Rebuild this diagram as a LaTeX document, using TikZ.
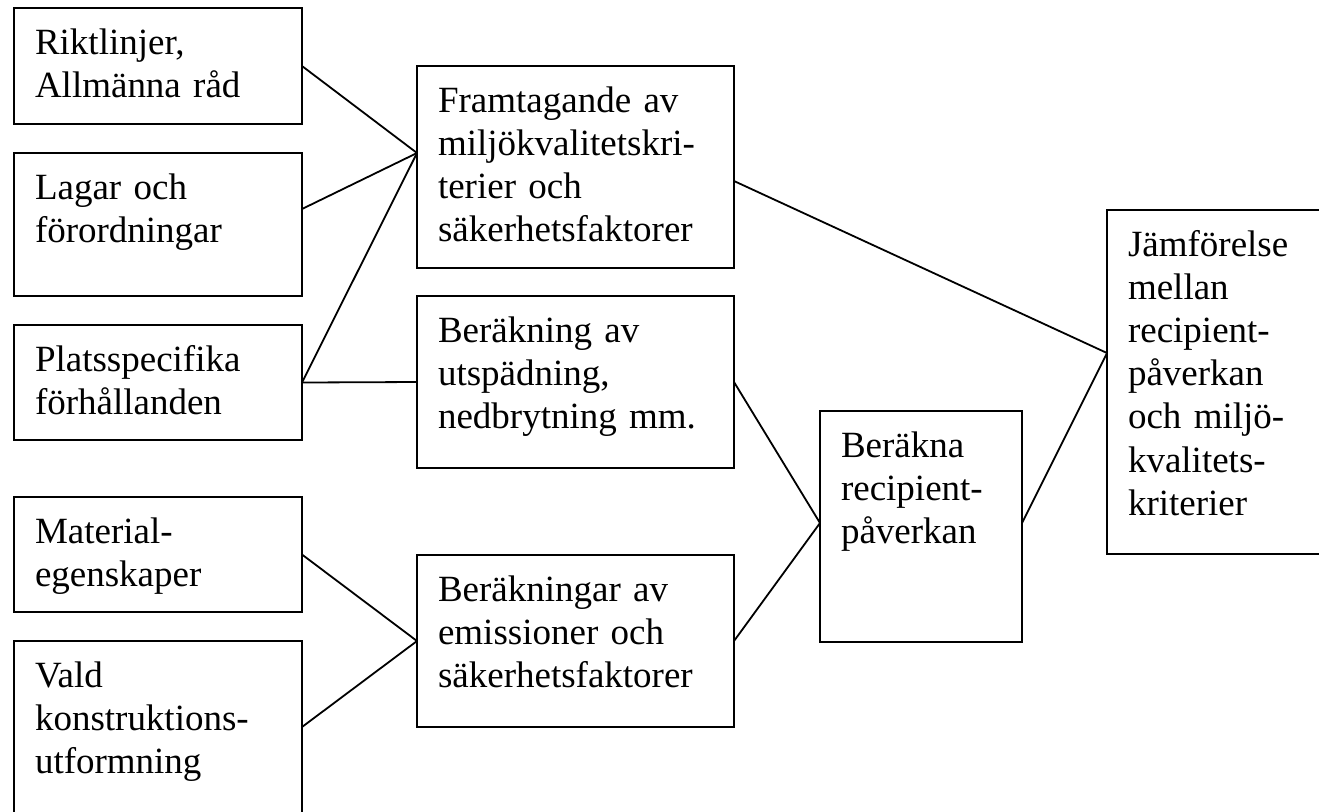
\documentclass[tikz,border=0pt]{standalone}
\usepackage{fontspec}
\setmainfont{Liberation Serif}
\begin{document}
\begin{tikzpicture}[x=0.5pt,y=-0.5pt,
  box/.style={draw, line width=0.9pt, rectangle, inner sep=0pt, outer sep=0pt, anchor=north west},
  txt/.style={anchor=north west, inner sep=0pt, outer sep=0pt, align=left, text width=400pt,
    font=\fontsize{18.5pt}{21.6pt}\selectfont},
  link/.style={line width=0.9pt}]
\useasboundingbox (0,0) rectangle (1319,811);
\clip (0,0) rectangle (1319,811);

% input boxes (left column)
\node[box, minimum width=144pt, minimum height=58pt]   (rikt) at (14,8)   {};
\node[box, minimum width=144pt, minimum height=71.5pt] (lag)  at (14,153) {};
\node[box, minimum width=144pt, minimum height=57.5pt] (plats) at (14,325) {};
\node[box, minimum width=144pt, minimum height=57.5pt] (mat)  at (14,497) {};
\node[box, minimum width=144pt, minimum height=95pt]   (vald) at (14,641) {};

% calculation boxes (middle column)
\node[box, minimum width=158.5pt, minimum height=101pt] (fram) at (417,66)  {};
\node[box, minimum width=158.5pt, minimum height=86pt]  (utsp) at (417,296) {};
\node[box, minimum width=158.5pt, minimum height=86pt]  (emis) at (417,555) {};

% result boxes
\node[box, minimum width=101pt, minimum height=115.5pt] (rec) at (820,411)  {};
\node[box, minimum width=115pt, minimum height=172pt]   (jmf) at (1107,210) {};

% box texts
\node[txt] at ([shift={(21,15.8)}]rikt.north west)  {\strut Riktlinjer,\\Allmänna råd};
\node[txt] at ([shift={(21,15.8)}]lag.north west)   {\strut Lagar och\\förordningar};
\node[txt] at ([shift={(21,15.8)}]plats.north west) {\strut Platsspecifika\\förhållanden};
\node[txt] at ([shift={(21,15.8)}]mat.north west)   {\strut Material-\\egenskaper};
\node[txt] at ([shift={(21,15.8)}]vald.north west)  {\strut Vald\\konstruktions-\\utformning};
\node[txt] at ([shift={(21,15.8)}]fram.north west)  {\strut Framtagande av\\miljökvalitetskri-\\terier och\\säkerhetsfaktorer};
\node[txt] at ([shift={(21,15.8)}]utsp.north west)  {\strut Beräkning av\\utspädning,\\nedbrytning mm.};
\node[txt] at ([shift={(21,15.8)}]emis.north west)  {\strut Beräkningar av\\emissioner och\\säkerhetsfaktorer};
\node[txt] at ([shift={(21,15.8)}]rec.north west)   {\strut Beräkna\\recipient-\\påverkan};
\node[txt] at ([shift={(21,15.8)}]jmf.north west)   {\strut Jämförelse\\mellan\\recipient-\\påverkan\\och miljö-\\kvalitets-\\kriterier};

% connection points on box edges
\coordinate (framin)  at ([shift={(0,87)}]fram.north west);
\coordinate (framout) at ([shift={(0,115)}]fram.north east);
\coordinate (lagout)  at ([shift={(0,56)}]lag.north east);
\coordinate (valdout) at ([shift={(0,86)}]vald.north east);
\coordinate (recin)   at ([shift={(0,112)}]rec.north west);
\coordinate (recout)  at ([shift={(0,112)}]rec.north east);
\coordinate (jmfin)   at ([shift={(0,143)}]jmf.north west);

% connectors
\draw[link] (rikt.east) -- (framin);
\draw[link] (lagout) -- (framin);
\draw[link] (plats.east) -- (framin);
\draw[link] (plats.east) -- (utsp.west);
\draw[link] (mat.east) -- (emis.west);
\draw[link] (valdout) -- (emis.west);
\draw[link] (framout) -- (jmfin);
\draw[link] (utsp.east) -- (recin);
\draw[link] (emis.east) -- (recin);
\draw[link] (recout) -- (jmfin);
\end{tikzpicture}
\end{document}
